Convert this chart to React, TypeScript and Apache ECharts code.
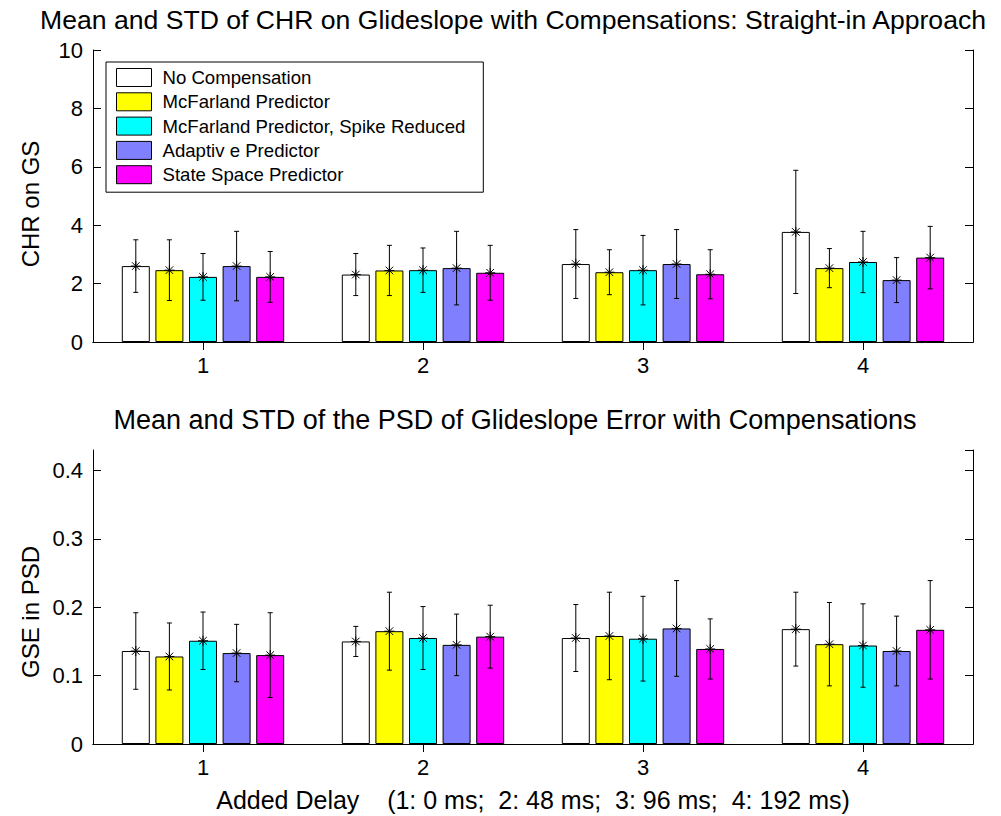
import React, { useEffect, useRef } from 'react';
import * as echarts from 'echarts';

const categories = ['1', '2', '3', '4'];
const seriesNames = [
  'No Compensation',
  'McFarland Predictor',
  'McFarland Predictor, Spike Reduced',
  'Adaptiv e Predictor',
  'State Space Predictor',
];
const colors = ['#ffffff', '#ffff00', '#00ffff', '#8080ff', '#ff00ff'];

// Top chart: CHR on GS (mean, std)
const chrNoCompMean = [2.6, 2.31, 2.67, 3.77];
const chrNoCompStd = [0.9, 0.72, 1.18, 2.11];
const chrMcfMean = [2.46, 2.45, 2.39, 2.53];
const chrMcfStd = [1.04, 0.86, 0.77, 0.67];
const chrSpikeMean = [2.23, 2.46, 2.46, 2.74];
const chrSpikeStd = [0.8, 0.76, 1.19, 1.05];
const chrAdaptMean = [2.6, 2.53, 2.67, 2.12];
const chrAdaptStd = [1.19, 1.26, 1.18, 0.77];
const chrSsMean = [2.23, 2.37, 2.32, 2.89];
const chrSsStd = [0.87, 0.94, 0.84, 1.07];

// Bottom chart: GSE in PSD (mean, std)
const gseNoCompMean = [0.136, 0.15, 0.155, 0.168];
const gseNoCompStd = [0.056, 0.022, 0.049, 0.054];
const gseMcfMean = [0.128, 0.165, 0.158, 0.146];
const gseMcfStd = [0.049, 0.057, 0.064, 0.061];
const gseSpikeMean = [0.151, 0.155, 0.154, 0.144];
const gseSpikeStd = [0.042, 0.046, 0.062, 0.061];
const gseAdaptMean = [0.133, 0.145, 0.169, 0.136];
const gseAdaptStd = [0.042, 0.045, 0.07, 0.051];
const gseSsMean = [0.13, 0.157, 0.139, 0.167];
const gseSsStd = [0.062, 0.046, 0.044, 0.072];

const topMeans = [chrNoCompMean, chrMcfMean, chrSpikeMean, chrAdaptMean, chrSsMean];
const topStds = [chrNoCompStd, chrMcfStd, chrSpikeStd, chrAdaptStd, chrSsStd];
const botMeans = [gseNoCompMean, gseMcfMean, gseSpikeMean, gseAdaptMean, gseSsMean];
const botStds = [gseNoCompStd, gseMcfStd, gseSpikeStd, gseAdaptStd, gseSsStd];

const topTitle = 'Mean and STD of CHR on Glideslope with Compensations: Straight-in Approach';
const botTitle = 'Mean and STD of the PSD of Glideslope Error with Compensations';
const topYName = 'CHR on GS';
const botYName = 'GSE in PSD';
const xName = 'Added Delay    (1: 0 ms;  2: 48 ms;  3: 96 ms;  4: 192 ms)';

const FONT = '"Liberation Sans", Arial, Helvetica, sans-serif';
const BAR_W = 28;
const BAR_STEP = 33.6;
const BAND = 220;

function makeErr(i: number) {
  return (params: any, api: any) => {
    const ci = api.value(0);
    const m = api.value(1);
    const s = api.value(2);
    const band = api.size([1, 0])[0];
    const c = api.coord([ci, m]);
    const x = c[0] + ((i - 2) * band * BAR_STEP) / BAND;
    const y = c[1];
    const yt = api.coord([ci, m + s])[1];
    const yb = api.coord([ci, m - s])[1];
    const cap = 2.5;
    const r = 5;
    const d = 3.8;
    const st = { stroke: '#000', lineWidth: 1, fill: null };
    const ln = (x1: number, y1: number, x2: number, y2: number) => ({
      type: 'line',
      shape: { x1, y1, x2, y2 },
      style: st,
    });
    return {
      type: 'group',
      children: [
        ln(x, yt, x, yb),
        ln(x - cap, yt, x + cap, yt),
        ln(x - cap, yb, x + cap, yb),
        ln(x, y - r, x, y + r),
        ln(x - r, y, x + r, y),
        ln(x - d, y - d, x + d, y + d),
        ln(x - d, y + d, x + d, y - d),
      ],
    };
  };
}

function axisPair(gridIndex: number) {
  const common = {
    gridIndex,
    type: 'category',
    data: categories,
    axisLine: { show: true, lineStyle: { color: '#000', width: 1 } },
    axisTick: { show: true, inside: true, alignWithLabel: true, length: 8, lineStyle: { color: '#000' } },
    splitLine: { show: false },
  };
  return [
    {
      ...common,
      position: 'bottom',
      axisLabel: { color: '#000', fontSize: 22, margin: 12, fontFamily: FONT },
    },
    { ...common, position: 'top', axisLabel: { show: false } },
  ];
}

function yPair(gridIndex: number, max: number, interval: number) {
  const common = {
    gridIndex,
    type: 'value',
    min: 0,
    max,
    interval,
    axisLine: { show: true, lineStyle: { color: '#000', width: 1 } },
    axisTick: { show: true, inside: true, length: 8, lineStyle: { color: '#000' } },
    splitLine: { show: false },
  };
  return [
    {
      ...common,
      position: 'left',
      axisLabel: {
        color: '#000',
        fontSize: 22,
        margin: 10,
        fontFamily: FONT,
        showMaxLabel: max === 10,
        formatter: (v: number) => {
          const k = v / interval;
          if (Math.abs(k - Math.round(k)) > 1e-6) return '';
          return String(Math.round(v * 10) / 10);
        },
      },
    },
    { ...common, position: 'right', axisLabel: { show: false } },
  ];
}

export default function App() {
  const ref = useRef<HTMLDivElement>(null);
  useEffect(() => {
    if (!ref.current) return;
    const chart = echarts.init(ref.current, null, { renderer: 'svg' });
    const series: any[] = [];
    [0, 1].forEach((g) => {
      const means = g === 0 ? topMeans : botMeans;
      const stds = g === 0 ? topStds : botStds;
      seriesNames.forEach((name, i) => {
        series.push({
          type: 'bar',
          name,
          xAxisIndex: g * 2,
          yAxisIndex: g * 2,
          barWidth: BAR_W,
          barGap: '20%',
          data: means[i],
          itemStyle: { color: colors[i], borderColor: '#000', borderWidth: 1 },
          z: 2,
        });
      });
      seriesNames.forEach((name, i) => {
        series.push({
          type: 'custom',
          name: 'err' + g + '_' + i,
          xAxisIndex: g * 2,
          yAxisIndex: g * 2,
          renderItem: makeErr(i),
          encode: { x: 0, y: 1 },
          data: means[i].map((m, k) => [k, m, stds[i][k]]),
          z: 5,
        });
      });
    });

    chart.setOption({
      animation: false,
      backgroundColor: '#fff',
      textStyle: { fontFamily: FONT },
      grid: [
        { left: 93, top: 50, width: 880, height: 292 },
        { left: 93, top: 450, width: 880, height: 294 },
      ],
      xAxis: [...axisPair(0), ...axisPair(1)],
      yAxis: [...yPair(0, 10, 2), ...yPair(1, 0.43, 0.1)],
      legend: {
        data: seriesNames,
        orient: 'vertical',
        left: 106,
        top: 62,
        icon: 'rect',
        itemWidth: 35,
        itemHeight: 18,
        itemGap: 5.3,
        borderColor: '#000',
        borderWidth: 1,
        backgroundColor: '#fff',
        padding: [6, 18, 8, 10],
        selectedMode: false,
        itemStyle: { borderColor: '#000', borderWidth: 1 },
        textStyle: { fontSize: 18.6, color: '#000', fontFamily: FONT, padding: [0, 0, 0, 6] },
      },
      graphic: [
        {
          type: 'text',
          x: 513,
          y: 20,
          style: { text: topTitle, font: '26.6px ' + FONT, fill: '#000', textAlign: 'center', textVerticalAlign: 'middle' },
        },
        {
          type: 'text',
          x: 515,
          y: 420,
          style: { text: botTitle, font: '27px ' + FONT, fill: '#000', textAlign: 'center', textVerticalAlign: 'middle' },
        },
        {
          type: 'text',
          x: 30,
          y: 204,
          rotation: Math.PI / 2,
          style: { text: topYName, font: '24px ' + FONT, fill: '#000', textAlign: 'center', textVerticalAlign: 'middle' },
        },
        {
          type: 'text',
          x: 30,
          y: 612,
          rotation: Math.PI / 2,
          style: { text: botYName, font: '24px ' + FONT, fill: '#000', textAlign: 'center', textVerticalAlign: 'middle' },
        },
        {
          type: 'text',
          x: 533,
          y: 800,
          style: { text: xName, font: '25px ' + FONT, fill: '#000', textAlign: 'center', textVerticalAlign: 'middle' },
        },
      ],
      series,
    });
    return () => chart.dispose();
  }, []);
  return (
    <div
      ref={ref}
      style={{ position: 'fixed', left: 0, top: 0, width: 1001, height: 816, background: '#fff' }}
    />
  );
}
